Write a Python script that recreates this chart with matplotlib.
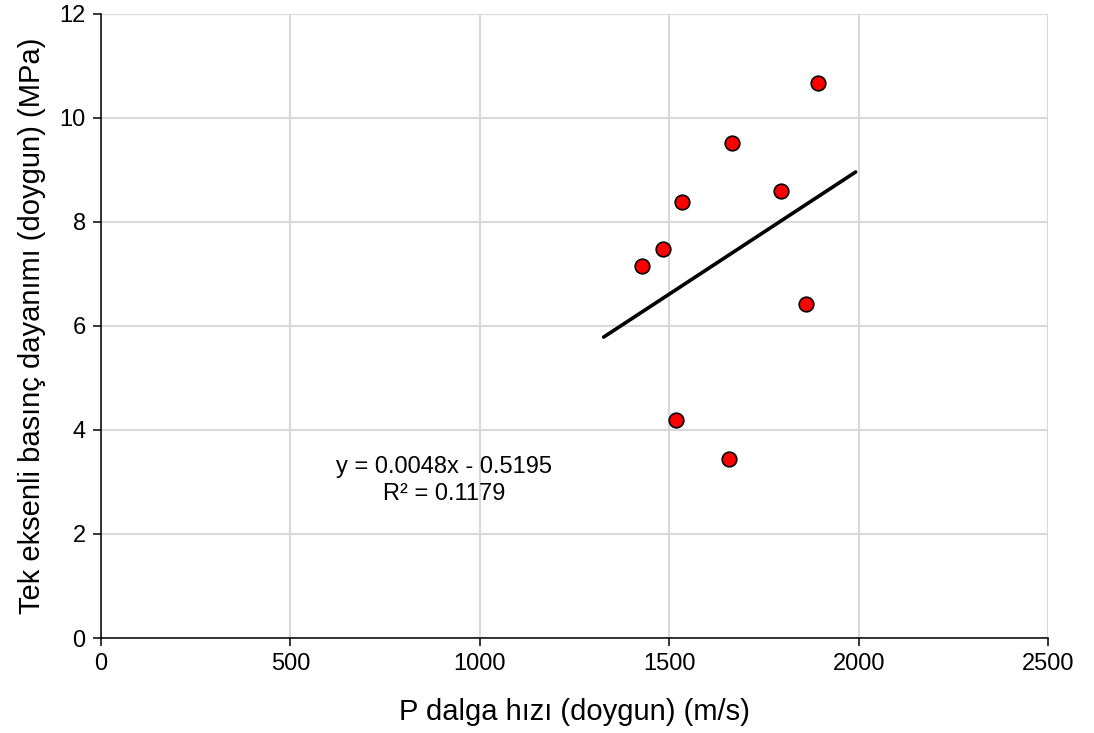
import numpy as np
import matplotlib
matplotlib.use("Agg")
import matplotlib.pyplot as plt

plt.rcParams['font.family'] = ['Liberation Sans', 'DejaVu Sans']

vp = [1427, 1484, 1535, 1517, 1666, 1659, 1794, 1861, 1892]
ucs = [7.16, 7.475, 8.39, 4.19, 9.525, 3.45, 8.60, 6.42, 10.67]
x_ticks = [0, 500, 1000, 1500, 2000, 2500]
y_ticks = [0, 2, 4, 6, 8, 10, 12]
eq_text = "y = 0.0048x - 0.5195\nR² = 0.1179"

fig = plt.figure(figsize=(10.94, 7.33), dpi=100)
ax = fig.add_axes([0.0923, 0.1296, 0.8657, 0.8514])

slope, icpt = np.polyfit(vp, ucs, 1)
xl = np.array([min(vp) - 100, max(vp) + 100])
ax.plot(xl, slope * xl + icpt, color='black', lw=2.6, zorder=3, solid_capstyle='round')
ax.plot(vp, ucs, 'o', ms=10.5, mfc='#ff0000', mec='black', mew=1.2, zorder=4)

ax.set_xlim(0, 2500)
ax.set_ylim(0, 12)
ax.set_xticks(x_ticks)
ax.set_yticks(y_ticks)
ax.grid(True, color='#d9d9d9', lw=1.5)
ax.set_axisbelow(True)
for s in ['top', 'right']:
    ax.spines[s].set_visible(False)
for s in ['left', 'bottom']:
    ax.spines[s].set_color('black')
    ax.spines[s].set_linewidth(1.1)
ax.tick_params(axis='both', direction='out', length=6, width=1.1, labelsize=17, colors='black', pad=5)

ax.set_xlabel("P dalga hızı (doygun) (m/s)", fontsize=21, labelpad=16)
ax.set_ylabel("Tek eksenli basınç dayanımı (doygun) (MPa)", fontsize=21, labelpad=10)

ax.text(905, 3.02, eq_text, ha='center', va='center', fontsize=17, linespacing=1.3)

fig.savefig("out.png", dpi=100)
